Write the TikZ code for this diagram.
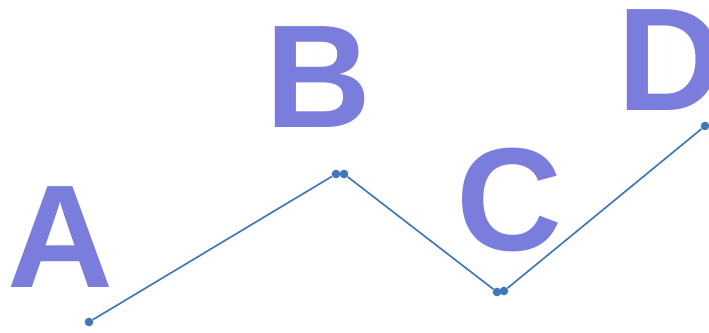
\documentclass[tikz,border=0pt]{standalone}
\usepackage{fontspec}
\setmainfont{Liberation Sans}
\definecolor{lettercol}{RGB}{123,125,220}
\definecolor{linecol}{RGB}{66,118,186}
\tikzset{
	letter/.style={anchor=base,inner sep=0pt,text=lettercol,font=\fontsize{110}{120}\selectfont\bfseries},
	seg/.style={linecol,line width=1.25pt},
	dot/.style={circle,fill=linecol,inner sep=0pt,minimum size=6.5pt}
}
\begin{document}
\begin{tikzpicture}[x=0.75pt,y=-0.75pt]
		\useasboundingbox (0,0) rectangle (709,332);
		\node[letter] (lA) at (60,287) {A};
		\node[letter] (lB) at (318,127) {B};
		\node[letter] (lC) at (509,250) {C};
		\node[letter] (lD) at (670,110) {D};
		\node[dot] (a) at (89,322) {};
		\node[dot] (b1) at (336,174) {};
		\node[dot] (b2) at (344,174) {};
		\node[dot] (c1) at (497,292) {};
		\node[dot] (c2) at (504,291) {};
		\node[dot] (d) at (705,126) {};
		\draw[seg] (a) -- (b1);
		\draw[seg] (b2) -- (c1);
		\draw[seg] (c2) -- (d);
	\end{tikzpicture}
\end{document}
